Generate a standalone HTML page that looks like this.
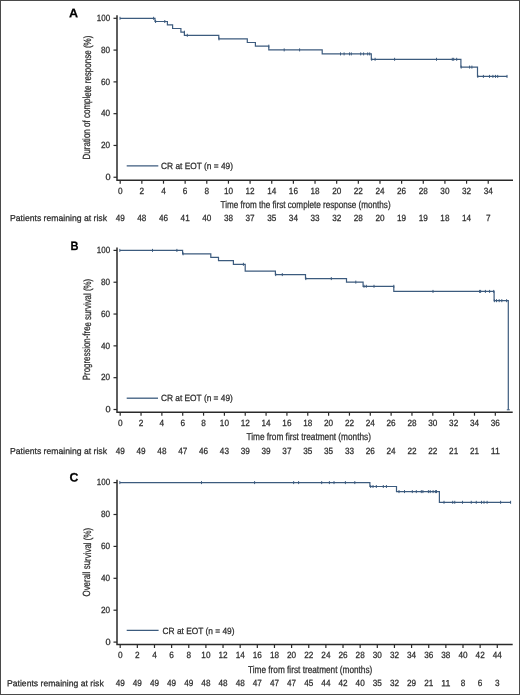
<!DOCTYPE html>
<html><head><meta charset="utf-8"><style>
html,body{margin:0;padding:0;background:#fff;}
svg{display:block;will-change:transform;}
text{font-family:"Liberation Sans", sans-serif;stroke:#2b2b2b;stroke-width:0.25px;paint-order:stroke;}
</style></head><body>
<svg width="520" height="695" viewBox="0 0 520 695">
<rect x="0" y="0" width="520" height="695" fill="#fff"/>
<rect x="0.5" y="0.5" width="519" height="694" fill="none" stroke="#4a4a4a" stroke-width="1"/>
<text x="68.9" y="17.35" font-size="12.2" textLength="9.1" lengthAdjust="spacingAndGlyphs" font-weight="bold" fill="#000" transform="rotate(0.03 68.9 17.35)">A</text>
<path d="M117 15.2V180.3H513" fill="none" stroke="#2a2a2a" stroke-width="1.5"/>
<path d="M113.5 177.25H117" stroke="#2a2a2a" stroke-width="1.2"/>
<text x="110.7" y="180.05" font-size="9" text-anchor="end" textLength="5.1" lengthAdjust="spacingAndGlyphs" fill="#2b2b2b" transform="rotate(0.03 110.7 180.05)">0</text>
<path d="M113.5 145.46H117" stroke="#2a2a2a" stroke-width="1.2"/>
<text x="110.1" y="148.26" font-size="9" text-anchor="end" textLength="9.1" lengthAdjust="spacingAndGlyphs" fill="#2b2b2b" transform="rotate(0.03 110.1 148.26)">20</text>
<path d="M113.5 113.67H117" stroke="#2a2a2a" stroke-width="1.2"/>
<text x="110.1" y="116.47" font-size="9" text-anchor="end" textLength="9.1" lengthAdjust="spacingAndGlyphs" fill="#2b2b2b" transform="rotate(0.03 110.1 116.47)">40</text>
<path d="M113.5 81.88H117" stroke="#2a2a2a" stroke-width="1.2"/>
<text x="110.1" y="84.68" font-size="9" text-anchor="end" textLength="9.1" lengthAdjust="spacingAndGlyphs" fill="#2b2b2b" transform="rotate(0.03 110.1 84.68)">60</text>
<path d="M113.5 50.09H117" stroke="#2a2a2a" stroke-width="1.2"/>
<text x="110.1" y="52.89" font-size="9" text-anchor="end" textLength="9.1" lengthAdjust="spacingAndGlyphs" fill="#2b2b2b" transform="rotate(0.03 110.1 52.89)">80</text>
<path d="M113.5 18.30H117" stroke="#2a2a2a" stroke-width="1.2"/>
<text x="110.1" y="21.10" font-size="9" text-anchor="end" textLength="13.3" lengthAdjust="spacingAndGlyphs" fill="#2b2b2b" transform="rotate(0.03 110.1 21.10)">100</text>
<text transform="translate(90.5 97.55) rotate(-89.97)" x="0" y="0" font-size="10.4" text-anchor="middle" textLength="123.9" lengthAdjust="spacingAndGlyphs" fill="#2b2b2b">Duration of complete response (%)</text>
<path d="M120.20 180.3V183.70000000000002" stroke="#2a2a2a" stroke-width="1.2"/>
<text x="120.20" y="193.9" font-size="9" text-anchor="middle" textLength="4.6" lengthAdjust="spacingAndGlyphs" fill="#2b2b2b" transform="rotate(0.03 120.20 193.9)">0</text>
<text x="120.20" y="220.9" font-size="9" text-anchor="middle" textLength="9.1" lengthAdjust="spacingAndGlyphs" fill="#2b2b2b" transform="rotate(0.03 120.20 220.9)">49</text>
<path d="M141.85 180.3V183.70000000000002" stroke="#2a2a2a" stroke-width="1.2"/>
<text x="141.85" y="193.9" font-size="9" text-anchor="middle" textLength="4.6" lengthAdjust="spacingAndGlyphs" fill="#2b2b2b" transform="rotate(0.03 141.85 193.9)">2</text>
<text x="141.85" y="220.9" font-size="9" text-anchor="middle" textLength="9.1" lengthAdjust="spacingAndGlyphs" fill="#2b2b2b" transform="rotate(0.03 141.85 220.9)">48</text>
<path d="M163.50 180.3V183.70000000000002" stroke="#2a2a2a" stroke-width="1.2"/>
<text x="163.50" y="193.9" font-size="9" text-anchor="middle" textLength="4.6" lengthAdjust="spacingAndGlyphs" fill="#2b2b2b" transform="rotate(0.03 163.50 193.9)">4</text>
<text x="163.50" y="220.9" font-size="9" text-anchor="middle" textLength="9.1" lengthAdjust="spacingAndGlyphs" fill="#2b2b2b" transform="rotate(0.03 163.50 220.9)">46</text>
<path d="M185.14 180.3V183.70000000000002" stroke="#2a2a2a" stroke-width="1.2"/>
<text x="185.14" y="193.9" font-size="9" text-anchor="middle" textLength="4.6" lengthAdjust="spacingAndGlyphs" fill="#2b2b2b" transform="rotate(0.03 185.14 193.9)">6</text>
<text x="185.14" y="220.9" font-size="9" text-anchor="middle" textLength="9.1" lengthAdjust="spacingAndGlyphs" fill="#2b2b2b" transform="rotate(0.03 185.14 220.9)">41</text>
<path d="M206.79 180.3V183.70000000000002" stroke="#2a2a2a" stroke-width="1.2"/>
<text x="206.79" y="193.9" font-size="9" text-anchor="middle" textLength="4.6" lengthAdjust="spacingAndGlyphs" fill="#2b2b2b" transform="rotate(0.03 206.79 193.9)">8</text>
<text x="206.79" y="220.9" font-size="9" text-anchor="middle" textLength="9.1" lengthAdjust="spacingAndGlyphs" fill="#2b2b2b" transform="rotate(0.03 206.79 220.9)">40</text>
<path d="M228.44 180.3V183.70000000000002" stroke="#2a2a2a" stroke-width="1.2"/>
<text x="228.44" y="193.9" font-size="9" text-anchor="middle" textLength="9.1" lengthAdjust="spacingAndGlyphs" fill="#2b2b2b" transform="rotate(0.03 228.44 193.9)">10</text>
<text x="228.44" y="220.9" font-size="9" text-anchor="middle" textLength="9.1" lengthAdjust="spacingAndGlyphs" fill="#2b2b2b" transform="rotate(0.03 228.44 220.9)">38</text>
<path d="M250.09 180.3V183.70000000000002" stroke="#2a2a2a" stroke-width="1.2"/>
<text x="250.09" y="193.9" font-size="9" text-anchor="middle" textLength="9.1" lengthAdjust="spacingAndGlyphs" fill="#2b2b2b" transform="rotate(0.03 250.09 193.9)">12</text>
<text x="250.09" y="220.9" font-size="9" text-anchor="middle" textLength="9.1" lengthAdjust="spacingAndGlyphs" fill="#2b2b2b" transform="rotate(0.03 250.09 220.9)">37</text>
<path d="M271.74 180.3V183.70000000000002" stroke="#2a2a2a" stroke-width="1.2"/>
<text x="271.74" y="193.9" font-size="9" text-anchor="middle" textLength="9.1" lengthAdjust="spacingAndGlyphs" fill="#2b2b2b" transform="rotate(0.03 271.74 193.9)">14</text>
<text x="271.74" y="220.9" font-size="9" text-anchor="middle" textLength="9.1" lengthAdjust="spacingAndGlyphs" fill="#2b2b2b" transform="rotate(0.03 271.74 220.9)">35</text>
<path d="M293.38 180.3V183.70000000000002" stroke="#2a2a2a" stroke-width="1.2"/>
<text x="293.38" y="193.9" font-size="9" text-anchor="middle" textLength="9.1" lengthAdjust="spacingAndGlyphs" fill="#2b2b2b" transform="rotate(0.03 293.38 193.9)">16</text>
<text x="293.38" y="220.9" font-size="9" text-anchor="middle" textLength="9.1" lengthAdjust="spacingAndGlyphs" fill="#2b2b2b" transform="rotate(0.03 293.38 220.9)">34</text>
<path d="M315.03 180.3V183.70000000000002" stroke="#2a2a2a" stroke-width="1.2"/>
<text x="315.03" y="193.9" font-size="9" text-anchor="middle" textLength="9.1" lengthAdjust="spacingAndGlyphs" fill="#2b2b2b" transform="rotate(0.03 315.03 193.9)">18</text>
<text x="315.03" y="220.9" font-size="9" text-anchor="middle" textLength="9.1" lengthAdjust="spacingAndGlyphs" fill="#2b2b2b" transform="rotate(0.03 315.03 220.9)">33</text>
<path d="M336.68 180.3V183.70000000000002" stroke="#2a2a2a" stroke-width="1.2"/>
<text x="336.68" y="193.9" font-size="9" text-anchor="middle" textLength="9.1" lengthAdjust="spacingAndGlyphs" fill="#2b2b2b" transform="rotate(0.03 336.68 193.9)">20</text>
<text x="336.68" y="220.9" font-size="9" text-anchor="middle" textLength="9.1" lengthAdjust="spacingAndGlyphs" fill="#2b2b2b" transform="rotate(0.03 336.68 220.9)">32</text>
<path d="M358.33 180.3V183.70000000000002" stroke="#2a2a2a" stroke-width="1.2"/>
<text x="358.33" y="193.9" font-size="9" text-anchor="middle" textLength="9.1" lengthAdjust="spacingAndGlyphs" fill="#2b2b2b" transform="rotate(0.03 358.33 193.9)">22</text>
<text x="358.33" y="220.9" font-size="9" text-anchor="middle" textLength="9.1" lengthAdjust="spacingAndGlyphs" fill="#2b2b2b" transform="rotate(0.03 358.33 220.9)">28</text>
<path d="M379.98 180.3V183.70000000000002" stroke="#2a2a2a" stroke-width="1.2"/>
<text x="379.98" y="193.9" font-size="9" text-anchor="middle" textLength="9.1" lengthAdjust="spacingAndGlyphs" fill="#2b2b2b" transform="rotate(0.03 379.98 193.9)">24</text>
<text x="379.98" y="220.9" font-size="9" text-anchor="middle" textLength="9.1" lengthAdjust="spacingAndGlyphs" fill="#2b2b2b" transform="rotate(0.03 379.98 220.9)">20</text>
<path d="M401.62 180.3V183.70000000000002" stroke="#2a2a2a" stroke-width="1.2"/>
<text x="401.62" y="193.9" font-size="9" text-anchor="middle" textLength="9.1" lengthAdjust="spacingAndGlyphs" fill="#2b2b2b" transform="rotate(0.03 401.62 193.9)">26</text>
<text x="401.62" y="220.9" font-size="9" text-anchor="middle" textLength="9.1" lengthAdjust="spacingAndGlyphs" fill="#2b2b2b" transform="rotate(0.03 401.62 220.9)">19</text>
<path d="M423.27 180.3V183.70000000000002" stroke="#2a2a2a" stroke-width="1.2"/>
<text x="423.27" y="193.9" font-size="9" text-anchor="middle" textLength="9.1" lengthAdjust="spacingAndGlyphs" fill="#2b2b2b" transform="rotate(0.03 423.27 193.9)">28</text>
<text x="423.27" y="220.9" font-size="9" text-anchor="middle" textLength="9.1" lengthAdjust="spacingAndGlyphs" fill="#2b2b2b" transform="rotate(0.03 423.27 220.9)">19</text>
<path d="M444.92 180.3V183.70000000000002" stroke="#2a2a2a" stroke-width="1.2"/>
<text x="444.92" y="193.9" font-size="9" text-anchor="middle" textLength="9.1" lengthAdjust="spacingAndGlyphs" fill="#2b2b2b" transform="rotate(0.03 444.92 193.9)">30</text>
<text x="444.92" y="220.9" font-size="9" text-anchor="middle" textLength="9.1" lengthAdjust="spacingAndGlyphs" fill="#2b2b2b" transform="rotate(0.03 444.92 220.9)">18</text>
<path d="M466.57 180.3V183.70000000000002" stroke="#2a2a2a" stroke-width="1.2"/>
<text x="466.57" y="193.9" font-size="9" text-anchor="middle" textLength="9.1" lengthAdjust="spacingAndGlyphs" fill="#2b2b2b" transform="rotate(0.03 466.57 193.9)">32</text>
<text x="466.57" y="220.9" font-size="9" text-anchor="middle" textLength="9.1" lengthAdjust="spacingAndGlyphs" fill="#2b2b2b" transform="rotate(0.03 466.57 220.9)">14</text>
<path d="M488.22 180.3V183.70000000000002" stroke="#2a2a2a" stroke-width="1.2"/>
<text x="488.22" y="193.9" font-size="9" text-anchor="middle" textLength="9.1" lengthAdjust="spacingAndGlyphs" fill="#2b2b2b" transform="rotate(0.03 488.22 193.9)">34</text>
<text x="488.22" y="220.9" font-size="9" text-anchor="middle" textLength="4.6" lengthAdjust="spacingAndGlyphs" fill="#2b2b2b" transform="rotate(0.03 488.22 220.9)">7</text>
<text x="220.5" y="207.9" font-size="10" textLength="170.1" lengthAdjust="spacingAndGlyphs" fill="#2b2b2b" transform="rotate(0.03 220.5 207.9)">Time from the first complete response (months)</text>
<text x="10" y="220.9" font-size="8.7" textLength="97" lengthAdjust="spacingAndGlyphs" fill="#2b2b2b" transform="rotate(0.03 10 220.9)">Patients remaining at risk</text>
<path d="M126.7 165.9H158.3" stroke="#3c5b7e" stroke-width="1.3"/>
<text x="161.0" y="168.9" font-size="9" textLength="72" lengthAdjust="spacingAndGlyphs" fill="#2b2b2b" transform="rotate(0.03 161.0 168.9)">CR at EOT (n = 49)</text>
<path d="M120 18.3H155V21.5H167.4V24.9H172.6V28.5H180.9V32.2H184.4V35.3H218.8V38.9H247.3V42.5H255.4V46.15H268.8V49.9H322.2V53.9H371.3V59.3H460.9V67.1H477.5V76.4H507.2" fill="none" stroke="#3c5b7e" stroke-width="1.2"/>
<path d="M120 16.80V19.80M153.6 16.80V19.80M155.6 20.00V23.00M164.8 20.00V23.00M184.4 30.70V33.70M187.3 33.80V36.80M219 37.40V40.40M268.8 44.65V47.65M284.2 48.40V51.40M299.6 48.40V51.40M340.5 52.40V55.40M344.1 52.40V55.40M349.5 52.40V55.40M351.3 52.40V55.40M360.7 52.40V55.40M363.6 52.40V55.40M367.7 52.40V55.40M369.7 52.40V55.40M371.7 57.80V60.80M375.1 57.80V60.80M394.6 57.80V60.80M436.5 57.80V60.80M452.3 57.80V60.80M453.7 57.80V60.80M456.7 57.80V60.80M461.2 65.60V68.60M469.6 65.60V68.60M471.9 65.60V68.60M477.8 74.90V77.90M483.4 74.90V77.90M489.5 74.90V77.90M492.9 74.90V77.90M495.5 74.90V77.90M497.7 74.90V77.90M507 74.90V77.90" stroke="#3c5b7e" stroke-width="1.0"/>
<text x="70.4" y="249.55" font-size="12.2" textLength="8.0" lengthAdjust="spacingAndGlyphs" font-weight="bold" fill="#000" transform="rotate(0.03 70.4 249.55)">B</text>
<path d="M117 247.5V412.3H512.7" fill="none" stroke="#2a2a2a" stroke-width="1.5"/>
<path d="M113.5 409.50H117" stroke="#2a2a2a" stroke-width="1.2"/>
<text x="110.7" y="412.30" font-size="9" text-anchor="end" textLength="5.1" lengthAdjust="spacingAndGlyphs" fill="#2b2b2b" transform="rotate(0.03 110.7 412.30)">0</text>
<path d="M113.5 377.68H117" stroke="#2a2a2a" stroke-width="1.2"/>
<text x="110.1" y="380.48" font-size="9" text-anchor="end" textLength="9.1" lengthAdjust="spacingAndGlyphs" fill="#2b2b2b" transform="rotate(0.03 110.1 380.48)">20</text>
<path d="M113.5 345.86H117" stroke="#2a2a2a" stroke-width="1.2"/>
<text x="110.1" y="348.66" font-size="9" text-anchor="end" textLength="9.1" lengthAdjust="spacingAndGlyphs" fill="#2b2b2b" transform="rotate(0.03 110.1 348.66)">40</text>
<path d="M113.5 314.04H117" stroke="#2a2a2a" stroke-width="1.2"/>
<text x="110.1" y="316.84" font-size="9" text-anchor="end" textLength="9.1" lengthAdjust="spacingAndGlyphs" fill="#2b2b2b" transform="rotate(0.03 110.1 316.84)">60</text>
<path d="M113.5 282.22H117" stroke="#2a2a2a" stroke-width="1.2"/>
<text x="110.1" y="285.02" font-size="9" text-anchor="end" textLength="9.1" lengthAdjust="spacingAndGlyphs" fill="#2b2b2b" transform="rotate(0.03 110.1 285.02)">80</text>
<path d="M113.5 250.40H117" stroke="#2a2a2a" stroke-width="1.2"/>
<text x="110.1" y="253.20" font-size="9" text-anchor="end" textLength="13.3" lengthAdjust="spacingAndGlyphs" fill="#2b2b2b" transform="rotate(0.03 110.1 253.20)">100</text>
<text transform="translate(90.5 329.55) rotate(-89.97)" x="0" y="0" font-size="10.4" text-anchor="middle" textLength="101.3" lengthAdjust="spacingAndGlyphs" fill="#2b2b2b">Progression-free survival (%)</text>
<path d="M120.20 412.3V415.7" stroke="#2a2a2a" stroke-width="1.2"/>
<text x="120.20" y="426.4" font-size="9" text-anchor="middle" textLength="4.6" lengthAdjust="spacingAndGlyphs" fill="#2b2b2b" transform="rotate(0.03 120.20 426.4)">0</text>
<text x="120.20" y="453.9" font-size="9" text-anchor="middle" textLength="9.1" lengthAdjust="spacingAndGlyphs" fill="#2b2b2b" transform="rotate(0.03 120.20 453.9)">49</text>
<path d="M141.04 412.3V415.7" stroke="#2a2a2a" stroke-width="1.2"/>
<text x="141.04" y="426.4" font-size="9" text-anchor="middle" textLength="4.6" lengthAdjust="spacingAndGlyphs" fill="#2b2b2b" transform="rotate(0.03 141.04 426.4)">2</text>
<text x="141.04" y="453.9" font-size="9" text-anchor="middle" textLength="9.1" lengthAdjust="spacingAndGlyphs" fill="#2b2b2b" transform="rotate(0.03 141.04 453.9)">49</text>
<path d="M161.88 412.3V415.7" stroke="#2a2a2a" stroke-width="1.2"/>
<text x="161.88" y="426.4" font-size="9" text-anchor="middle" textLength="4.6" lengthAdjust="spacingAndGlyphs" fill="#2b2b2b" transform="rotate(0.03 161.88 426.4)">4</text>
<text x="161.88" y="453.9" font-size="9" text-anchor="middle" textLength="9.1" lengthAdjust="spacingAndGlyphs" fill="#2b2b2b" transform="rotate(0.03 161.88 453.9)">48</text>
<path d="M182.72 412.3V415.7" stroke="#2a2a2a" stroke-width="1.2"/>
<text x="182.72" y="426.4" font-size="9" text-anchor="middle" textLength="4.6" lengthAdjust="spacingAndGlyphs" fill="#2b2b2b" transform="rotate(0.03 182.72 426.4)">6</text>
<text x="182.72" y="453.9" font-size="9" text-anchor="middle" textLength="9.1" lengthAdjust="spacingAndGlyphs" fill="#2b2b2b" transform="rotate(0.03 182.72 453.9)">47</text>
<path d="M203.56 412.3V415.7" stroke="#2a2a2a" stroke-width="1.2"/>
<text x="203.56" y="426.4" font-size="9" text-anchor="middle" textLength="4.6" lengthAdjust="spacingAndGlyphs" fill="#2b2b2b" transform="rotate(0.03 203.56 426.4)">8</text>
<text x="203.56" y="453.9" font-size="9" text-anchor="middle" textLength="9.1" lengthAdjust="spacingAndGlyphs" fill="#2b2b2b" transform="rotate(0.03 203.56 453.9)">46</text>
<path d="M224.40 412.3V415.7" stroke="#2a2a2a" stroke-width="1.2"/>
<text x="224.40" y="426.4" font-size="9" text-anchor="middle" textLength="9.1" lengthAdjust="spacingAndGlyphs" fill="#2b2b2b" transform="rotate(0.03 224.40 426.4)">10</text>
<text x="224.40" y="453.9" font-size="9" text-anchor="middle" textLength="9.1" lengthAdjust="spacingAndGlyphs" fill="#2b2b2b" transform="rotate(0.03 224.40 453.9)">43</text>
<path d="M245.24 412.3V415.7" stroke="#2a2a2a" stroke-width="1.2"/>
<text x="245.24" y="426.4" font-size="9" text-anchor="middle" textLength="9.1" lengthAdjust="spacingAndGlyphs" fill="#2b2b2b" transform="rotate(0.03 245.24 426.4)">12</text>
<text x="245.24" y="453.9" font-size="9" text-anchor="middle" textLength="9.1" lengthAdjust="spacingAndGlyphs" fill="#2b2b2b" transform="rotate(0.03 245.24 453.9)">39</text>
<path d="M266.08 412.3V415.7" stroke="#2a2a2a" stroke-width="1.2"/>
<text x="266.08" y="426.4" font-size="9" text-anchor="middle" textLength="9.1" lengthAdjust="spacingAndGlyphs" fill="#2b2b2b" transform="rotate(0.03 266.08 426.4)">14</text>
<text x="266.08" y="453.9" font-size="9" text-anchor="middle" textLength="9.1" lengthAdjust="spacingAndGlyphs" fill="#2b2b2b" transform="rotate(0.03 266.08 453.9)">39</text>
<path d="M286.92 412.3V415.7" stroke="#2a2a2a" stroke-width="1.2"/>
<text x="286.92" y="426.4" font-size="9" text-anchor="middle" textLength="9.1" lengthAdjust="spacingAndGlyphs" fill="#2b2b2b" transform="rotate(0.03 286.92 426.4)">16</text>
<text x="286.92" y="453.9" font-size="9" text-anchor="middle" textLength="9.1" lengthAdjust="spacingAndGlyphs" fill="#2b2b2b" transform="rotate(0.03 286.92 453.9)">37</text>
<path d="M307.76 412.3V415.7" stroke="#2a2a2a" stroke-width="1.2"/>
<text x="307.76" y="426.4" font-size="9" text-anchor="middle" textLength="9.1" lengthAdjust="spacingAndGlyphs" fill="#2b2b2b" transform="rotate(0.03 307.76 426.4)">18</text>
<text x="307.76" y="453.9" font-size="9" text-anchor="middle" textLength="9.1" lengthAdjust="spacingAndGlyphs" fill="#2b2b2b" transform="rotate(0.03 307.76 453.9)">35</text>
<path d="M328.60 412.3V415.7" stroke="#2a2a2a" stroke-width="1.2"/>
<text x="328.60" y="426.4" font-size="9" text-anchor="middle" textLength="9.1" lengthAdjust="spacingAndGlyphs" fill="#2b2b2b" transform="rotate(0.03 328.60 426.4)">20</text>
<text x="328.60" y="453.9" font-size="9" text-anchor="middle" textLength="9.1" lengthAdjust="spacingAndGlyphs" fill="#2b2b2b" transform="rotate(0.03 328.60 453.9)">35</text>
<path d="M349.44 412.3V415.7" stroke="#2a2a2a" stroke-width="1.2"/>
<text x="349.44" y="426.4" font-size="9" text-anchor="middle" textLength="9.1" lengthAdjust="spacingAndGlyphs" fill="#2b2b2b" transform="rotate(0.03 349.44 426.4)">22</text>
<text x="349.44" y="453.9" font-size="9" text-anchor="middle" textLength="9.1" lengthAdjust="spacingAndGlyphs" fill="#2b2b2b" transform="rotate(0.03 349.44 453.9)">33</text>
<path d="M370.28 412.3V415.7" stroke="#2a2a2a" stroke-width="1.2"/>
<text x="370.28" y="426.4" font-size="9" text-anchor="middle" textLength="9.1" lengthAdjust="spacingAndGlyphs" fill="#2b2b2b" transform="rotate(0.03 370.28 426.4)">24</text>
<text x="370.28" y="453.9" font-size="9" text-anchor="middle" textLength="9.1" lengthAdjust="spacingAndGlyphs" fill="#2b2b2b" transform="rotate(0.03 370.28 453.9)">26</text>
<path d="M391.12 412.3V415.7" stroke="#2a2a2a" stroke-width="1.2"/>
<text x="391.12" y="426.4" font-size="9" text-anchor="middle" textLength="9.1" lengthAdjust="spacingAndGlyphs" fill="#2b2b2b" transform="rotate(0.03 391.12 426.4)">26</text>
<text x="391.12" y="453.9" font-size="9" text-anchor="middle" textLength="9.1" lengthAdjust="spacingAndGlyphs" fill="#2b2b2b" transform="rotate(0.03 391.12 453.9)">24</text>
<path d="M411.96 412.3V415.7" stroke="#2a2a2a" stroke-width="1.2"/>
<text x="411.96" y="426.4" font-size="9" text-anchor="middle" textLength="9.1" lengthAdjust="spacingAndGlyphs" fill="#2b2b2b" transform="rotate(0.03 411.96 426.4)">28</text>
<text x="411.96" y="453.9" font-size="9" text-anchor="middle" textLength="9.1" lengthAdjust="spacingAndGlyphs" fill="#2b2b2b" transform="rotate(0.03 411.96 453.9)">22</text>
<path d="M432.80 412.3V415.7" stroke="#2a2a2a" stroke-width="1.2"/>
<text x="432.80" y="426.4" font-size="9" text-anchor="middle" textLength="9.1" lengthAdjust="spacingAndGlyphs" fill="#2b2b2b" transform="rotate(0.03 432.80 426.4)">30</text>
<text x="432.80" y="453.9" font-size="9" text-anchor="middle" textLength="9.1" lengthAdjust="spacingAndGlyphs" fill="#2b2b2b" transform="rotate(0.03 432.80 453.9)">22</text>
<path d="M453.64 412.3V415.7" stroke="#2a2a2a" stroke-width="1.2"/>
<text x="453.64" y="426.4" font-size="9" text-anchor="middle" textLength="9.1" lengthAdjust="spacingAndGlyphs" fill="#2b2b2b" transform="rotate(0.03 453.64 426.4)">32</text>
<text x="453.64" y="453.9" font-size="9" text-anchor="middle" textLength="9.1" lengthAdjust="spacingAndGlyphs" fill="#2b2b2b" transform="rotate(0.03 453.64 453.9)">21</text>
<path d="M474.48 412.3V415.7" stroke="#2a2a2a" stroke-width="1.2"/>
<text x="474.48" y="426.4" font-size="9" text-anchor="middle" textLength="9.1" lengthAdjust="spacingAndGlyphs" fill="#2b2b2b" transform="rotate(0.03 474.48 426.4)">34</text>
<text x="474.48" y="453.9" font-size="9" text-anchor="middle" textLength="9.1" lengthAdjust="spacingAndGlyphs" fill="#2b2b2b" transform="rotate(0.03 474.48 453.9)">21</text>
<path d="M495.32 412.3V415.7" stroke="#2a2a2a" stroke-width="1.2"/>
<text x="495.32" y="426.4" font-size="9" text-anchor="middle" textLength="9.1" lengthAdjust="spacingAndGlyphs" fill="#2b2b2b" transform="rotate(0.03 495.32 426.4)">36</text>
<text x="495.32" y="453.9" font-size="9" text-anchor="middle" textLength="9.1" lengthAdjust="spacingAndGlyphs" fill="#2b2b2b" transform="rotate(0.03 495.32 453.9)">11</text>
<text x="246.45" y="440.2" font-size="10" textLength="124.5" lengthAdjust="spacingAndGlyphs" fill="#2b2b2b" transform="rotate(0.03 246.45 440.2)">Time from first treatment (months)</text>
<text x="10" y="453.9" font-size="8.7" textLength="97" lengthAdjust="spacingAndGlyphs" fill="#2b2b2b" transform="rotate(0.03 10 453.9)">Patients remaining at risk</text>
<path d="M126.7 398.2H158.0" stroke="#3c5b7e" stroke-width="1.3"/>
<text x="160.9" y="400.6" font-size="9" textLength="72" lengthAdjust="spacingAndGlyphs" fill="#2b2b2b" transform="rotate(0.03 160.9 400.6)">CR at EOT (n = 49)</text>
<path d="M120 250.4H182.6V253.8H210.8V257.3H218.5V260.6H233.4V264.3H245.2V271.1H275.4V274.6H305.5V278.6H346.5V282.1H363.1V286.3H393.8V291.4H494.1V300.7H508.3V409.8" fill="none" stroke="#3c5b7e" stroke-width="1.2"/>
<path d="M119.8 248.90V251.90M152.5 248.90V251.90M176.9 248.90V251.90M183.1 252.30V255.30M243.4 262.80V265.80M275.7 273.10V276.10M282.3 273.10V276.10M305.8 277.10V280.10M331.3 277.10V280.10M355.8 280.60V283.60M364 284.80V287.80M366.3 284.80V287.80M374 284.80V287.80M393.8 284.80V287.80M433 289.90V292.90M479.6 289.90V292.90M480.6 289.90V292.90M485.4 289.90V292.90M489.6 289.90V292.90M493.7 289.90V292.90M494.4 299.20V302.20M496.5 299.20V302.20M499.2 299.20V302.20M501.8 299.20V302.20M506.6 299.20V302.20M506.8 409.8H509.8" stroke="#3c5b7e" stroke-width="1.0"/>
<text x="69.5" y="481.4" font-size="12.2" textLength="8.9" lengthAdjust="spacingAndGlyphs" font-weight="bold" fill="#000" transform="rotate(0.03 69.5 481.4)">C</text>
<path d="M117 479.8V644.6H512.7" fill="none" stroke="#2a2a2a" stroke-width="1.5"/>
<path d="M113.5 642.10H117" stroke="#2a2a2a" stroke-width="1.2"/>
<text x="110.7" y="644.90" font-size="9" text-anchor="end" textLength="5.1" lengthAdjust="spacingAndGlyphs" fill="#2b2b2b" transform="rotate(0.03 110.7 644.90)">0</text>
<path d="M113.5 610.20H117" stroke="#2a2a2a" stroke-width="1.2"/>
<text x="110.1" y="613.00" font-size="9" text-anchor="end" textLength="9.1" lengthAdjust="spacingAndGlyphs" fill="#2b2b2b" transform="rotate(0.03 110.1 613.00)">20</text>
<path d="M113.5 578.30H117" stroke="#2a2a2a" stroke-width="1.2"/>
<text x="110.1" y="581.10" font-size="9" text-anchor="end" textLength="9.1" lengthAdjust="spacingAndGlyphs" fill="#2b2b2b" transform="rotate(0.03 110.1 581.10)">40</text>
<path d="M113.5 546.40H117" stroke="#2a2a2a" stroke-width="1.2"/>
<text x="110.1" y="549.20" font-size="9" text-anchor="end" textLength="9.1" lengthAdjust="spacingAndGlyphs" fill="#2b2b2b" transform="rotate(0.03 110.1 549.20)">60</text>
<path d="M113.5 514.50H117" stroke="#2a2a2a" stroke-width="1.2"/>
<text x="110.1" y="517.30" font-size="9" text-anchor="end" textLength="9.1" lengthAdjust="spacingAndGlyphs" fill="#2b2b2b" transform="rotate(0.03 110.1 517.30)">80</text>
<path d="M113.5 482.60H117" stroke="#2a2a2a" stroke-width="1.2"/>
<text x="110.1" y="485.40" font-size="9" text-anchor="end" textLength="13.3" lengthAdjust="spacingAndGlyphs" fill="#2b2b2b" transform="rotate(0.03 110.1 485.40)">100</text>
<text transform="translate(90.5 562.2) rotate(-89.97)" x="0" y="0" font-size="10.4" text-anchor="middle" textLength="68.6" lengthAdjust="spacingAndGlyphs" fill="#2b2b2b">Overall survival (%)</text>
<path d="M120.20 644.6V648.0" stroke="#2a2a2a" stroke-width="1.2"/>
<text x="120.20" y="658.2" font-size="9" text-anchor="middle" textLength="4.6" lengthAdjust="spacingAndGlyphs" fill="#2b2b2b" transform="rotate(0.03 120.20 658.2)">0</text>
<text x="120.20" y="686.3" font-size="9" text-anchor="middle" textLength="9.1" lengthAdjust="spacingAndGlyphs" fill="#2b2b2b" transform="rotate(0.03 120.20 686.3)">49</text>
<path d="M137.34 644.6V648.0" stroke="#2a2a2a" stroke-width="1.2"/>
<text x="137.34" y="658.2" font-size="9" text-anchor="middle" textLength="4.6" lengthAdjust="spacingAndGlyphs" fill="#2b2b2b" transform="rotate(0.03 137.34 658.2)">2</text>
<text x="137.34" y="686.3" font-size="9" text-anchor="middle" textLength="9.1" lengthAdjust="spacingAndGlyphs" fill="#2b2b2b" transform="rotate(0.03 137.34 686.3)">49</text>
<path d="M154.48 644.6V648.0" stroke="#2a2a2a" stroke-width="1.2"/>
<text x="154.48" y="658.2" font-size="9" text-anchor="middle" textLength="4.6" lengthAdjust="spacingAndGlyphs" fill="#2b2b2b" transform="rotate(0.03 154.48 658.2)">4</text>
<text x="154.48" y="686.3" font-size="9" text-anchor="middle" textLength="9.1" lengthAdjust="spacingAndGlyphs" fill="#2b2b2b" transform="rotate(0.03 154.48 686.3)">49</text>
<path d="M171.62 644.6V648.0" stroke="#2a2a2a" stroke-width="1.2"/>
<text x="171.62" y="658.2" font-size="9" text-anchor="middle" textLength="4.6" lengthAdjust="spacingAndGlyphs" fill="#2b2b2b" transform="rotate(0.03 171.62 658.2)">6</text>
<text x="171.62" y="686.3" font-size="9" text-anchor="middle" textLength="9.1" lengthAdjust="spacingAndGlyphs" fill="#2b2b2b" transform="rotate(0.03 171.62 686.3)">49</text>
<path d="M188.76 644.6V648.0" stroke="#2a2a2a" stroke-width="1.2"/>
<text x="188.76" y="658.2" font-size="9" text-anchor="middle" textLength="4.6" lengthAdjust="spacingAndGlyphs" fill="#2b2b2b" transform="rotate(0.03 188.76 658.2)">8</text>
<text x="188.76" y="686.3" font-size="9" text-anchor="middle" textLength="9.1" lengthAdjust="spacingAndGlyphs" fill="#2b2b2b" transform="rotate(0.03 188.76 686.3)">49</text>
<path d="M205.90 644.6V648.0" stroke="#2a2a2a" stroke-width="1.2"/>
<text x="205.90" y="658.2" font-size="9" text-anchor="middle" textLength="9.1" lengthAdjust="spacingAndGlyphs" fill="#2b2b2b" transform="rotate(0.03 205.90 658.2)">10</text>
<text x="205.90" y="686.3" font-size="9" text-anchor="middle" textLength="9.1" lengthAdjust="spacingAndGlyphs" fill="#2b2b2b" transform="rotate(0.03 205.90 686.3)">48</text>
<path d="M223.04 644.6V648.0" stroke="#2a2a2a" stroke-width="1.2"/>
<text x="223.04" y="658.2" font-size="9" text-anchor="middle" textLength="9.1" lengthAdjust="spacingAndGlyphs" fill="#2b2b2b" transform="rotate(0.03 223.04 658.2)">12</text>
<text x="223.04" y="686.3" font-size="9" text-anchor="middle" textLength="9.1" lengthAdjust="spacingAndGlyphs" fill="#2b2b2b" transform="rotate(0.03 223.04 686.3)">48</text>
<path d="M240.18 644.6V648.0" stroke="#2a2a2a" stroke-width="1.2"/>
<text x="240.18" y="658.2" font-size="9" text-anchor="middle" textLength="9.1" lengthAdjust="spacingAndGlyphs" fill="#2b2b2b" transform="rotate(0.03 240.18 658.2)">14</text>
<text x="240.18" y="686.3" font-size="9" text-anchor="middle" textLength="9.1" lengthAdjust="spacingAndGlyphs" fill="#2b2b2b" transform="rotate(0.03 240.18 686.3)">48</text>
<path d="M257.32 644.6V648.0" stroke="#2a2a2a" stroke-width="1.2"/>
<text x="257.32" y="658.2" font-size="9" text-anchor="middle" textLength="9.1" lengthAdjust="spacingAndGlyphs" fill="#2b2b2b" transform="rotate(0.03 257.32 658.2)">16</text>
<text x="257.32" y="686.3" font-size="9" text-anchor="middle" textLength="9.1" lengthAdjust="spacingAndGlyphs" fill="#2b2b2b" transform="rotate(0.03 257.32 686.3)">47</text>
<path d="M274.46 644.6V648.0" stroke="#2a2a2a" stroke-width="1.2"/>
<text x="274.46" y="658.2" font-size="9" text-anchor="middle" textLength="9.1" lengthAdjust="spacingAndGlyphs" fill="#2b2b2b" transform="rotate(0.03 274.46 658.2)">18</text>
<text x="274.46" y="686.3" font-size="9" text-anchor="middle" textLength="9.1" lengthAdjust="spacingAndGlyphs" fill="#2b2b2b" transform="rotate(0.03 274.46 686.3)">47</text>
<path d="M291.60 644.6V648.0" stroke="#2a2a2a" stroke-width="1.2"/>
<text x="291.60" y="658.2" font-size="9" text-anchor="middle" textLength="9.1" lengthAdjust="spacingAndGlyphs" fill="#2b2b2b" transform="rotate(0.03 291.60 658.2)">20</text>
<text x="291.60" y="686.3" font-size="9" text-anchor="middle" textLength="9.1" lengthAdjust="spacingAndGlyphs" fill="#2b2b2b" transform="rotate(0.03 291.60 686.3)">47</text>
<path d="M308.74 644.6V648.0" stroke="#2a2a2a" stroke-width="1.2"/>
<text x="308.74" y="658.2" font-size="9" text-anchor="middle" textLength="9.1" lengthAdjust="spacingAndGlyphs" fill="#2b2b2b" transform="rotate(0.03 308.74 658.2)">22</text>
<text x="308.74" y="686.3" font-size="9" text-anchor="middle" textLength="9.1" lengthAdjust="spacingAndGlyphs" fill="#2b2b2b" transform="rotate(0.03 308.74 686.3)">45</text>
<path d="M325.88 644.6V648.0" stroke="#2a2a2a" stroke-width="1.2"/>
<text x="325.88" y="658.2" font-size="9" text-anchor="middle" textLength="9.1" lengthAdjust="spacingAndGlyphs" fill="#2b2b2b" transform="rotate(0.03 325.88 658.2)">24</text>
<text x="325.88" y="686.3" font-size="9" text-anchor="middle" textLength="9.1" lengthAdjust="spacingAndGlyphs" fill="#2b2b2b" transform="rotate(0.03 325.88 686.3)">44</text>
<path d="M343.02 644.6V648.0" stroke="#2a2a2a" stroke-width="1.2"/>
<text x="343.02" y="658.2" font-size="9" text-anchor="middle" textLength="9.1" lengthAdjust="spacingAndGlyphs" fill="#2b2b2b" transform="rotate(0.03 343.02 658.2)">26</text>
<text x="343.02" y="686.3" font-size="9" text-anchor="middle" textLength="9.1" lengthAdjust="spacingAndGlyphs" fill="#2b2b2b" transform="rotate(0.03 343.02 686.3)">42</text>
<path d="M360.16 644.6V648.0" stroke="#2a2a2a" stroke-width="1.2"/>
<text x="360.16" y="658.2" font-size="9" text-anchor="middle" textLength="9.1" lengthAdjust="spacingAndGlyphs" fill="#2b2b2b" transform="rotate(0.03 360.16 658.2)">28</text>
<text x="360.16" y="686.3" font-size="9" text-anchor="middle" textLength="9.1" lengthAdjust="spacingAndGlyphs" fill="#2b2b2b" transform="rotate(0.03 360.16 686.3)">40</text>
<path d="M377.30 644.6V648.0" stroke="#2a2a2a" stroke-width="1.2"/>
<text x="377.30" y="658.2" font-size="9" text-anchor="middle" textLength="9.1" lengthAdjust="spacingAndGlyphs" fill="#2b2b2b" transform="rotate(0.03 377.30 658.2)">30</text>
<text x="377.30" y="686.3" font-size="9" text-anchor="middle" textLength="9.1" lengthAdjust="spacingAndGlyphs" fill="#2b2b2b" transform="rotate(0.03 377.30 686.3)">35</text>
<path d="M394.44 644.6V648.0" stroke="#2a2a2a" stroke-width="1.2"/>
<text x="394.44" y="658.2" font-size="9" text-anchor="middle" textLength="9.1" lengthAdjust="spacingAndGlyphs" fill="#2b2b2b" transform="rotate(0.03 394.44 658.2)">32</text>
<text x="394.44" y="686.3" font-size="9" text-anchor="middle" textLength="9.1" lengthAdjust="spacingAndGlyphs" fill="#2b2b2b" transform="rotate(0.03 394.44 686.3)">32</text>
<path d="M411.58 644.6V648.0" stroke="#2a2a2a" stroke-width="1.2"/>
<text x="411.58" y="658.2" font-size="9" text-anchor="middle" textLength="9.1" lengthAdjust="spacingAndGlyphs" fill="#2b2b2b" transform="rotate(0.03 411.58 658.2)">34</text>
<text x="411.58" y="686.3" font-size="9" text-anchor="middle" textLength="9.1" lengthAdjust="spacingAndGlyphs" fill="#2b2b2b" transform="rotate(0.03 411.58 686.3)">29</text>
<path d="M428.72 644.6V648.0" stroke="#2a2a2a" stroke-width="1.2"/>
<text x="428.72" y="658.2" font-size="9" text-anchor="middle" textLength="9.1" lengthAdjust="spacingAndGlyphs" fill="#2b2b2b" transform="rotate(0.03 428.72 658.2)">36</text>
<text x="428.72" y="686.3" font-size="9" text-anchor="middle" textLength="9.1" lengthAdjust="spacingAndGlyphs" fill="#2b2b2b" transform="rotate(0.03 428.72 686.3)">21</text>
<path d="M445.86 644.6V648.0" stroke="#2a2a2a" stroke-width="1.2"/>
<text x="445.86" y="658.2" font-size="9" text-anchor="middle" textLength="9.1" lengthAdjust="spacingAndGlyphs" fill="#2b2b2b" transform="rotate(0.03 445.86 658.2)">38</text>
<text x="445.86" y="686.3" font-size="9" text-anchor="middle" textLength="9.1" lengthAdjust="spacingAndGlyphs" fill="#2b2b2b" transform="rotate(0.03 445.86 686.3)">11</text>
<path d="M463.00 644.6V648.0" stroke="#2a2a2a" stroke-width="1.2"/>
<text x="463.00" y="658.2" font-size="9" text-anchor="middle" textLength="9.1" lengthAdjust="spacingAndGlyphs" fill="#2b2b2b" transform="rotate(0.03 463.00 658.2)">40</text>
<text x="463.00" y="686.3" font-size="9" text-anchor="middle" textLength="4.6" lengthAdjust="spacingAndGlyphs" fill="#2b2b2b" transform="rotate(0.03 463.00 686.3)">8</text>
<path d="M480.14 644.6V648.0" stroke="#2a2a2a" stroke-width="1.2"/>
<text x="480.14" y="658.2" font-size="9" text-anchor="middle" textLength="9.1" lengthAdjust="spacingAndGlyphs" fill="#2b2b2b" transform="rotate(0.03 480.14 658.2)">42</text>
<text x="480.14" y="686.3" font-size="9" text-anchor="middle" textLength="4.6" lengthAdjust="spacingAndGlyphs" fill="#2b2b2b" transform="rotate(0.03 480.14 686.3)">6</text>
<path d="M497.28 644.6V648.0" stroke="#2a2a2a" stroke-width="1.2"/>
<text x="497.28" y="658.2" font-size="9" text-anchor="middle" textLength="9.1" lengthAdjust="spacingAndGlyphs" fill="#2b2b2b" transform="rotate(0.03 497.28 658.2)">44</text>
<text x="497.28" y="686.3" font-size="9" text-anchor="middle" textLength="4.6" lengthAdjust="spacingAndGlyphs" fill="#2b2b2b" transform="rotate(0.03 497.28 686.3)">3</text>
<text x="247.95" y="672.5" font-size="10" textLength="124.4" lengthAdjust="spacingAndGlyphs" fill="#2b2b2b" transform="rotate(0.03 247.95 672.5)">Time from first treatment (months)</text>
<text x="7" y="686.3" font-size="8.7" textLength="96.75" lengthAdjust="spacingAndGlyphs" fill="#2b2b2b" transform="rotate(0.03 7 686.3)">Patients remaining at risk</text>
<path d="M126.7 630.4H158.6" stroke="#3c5b7e" stroke-width="1.3"/>
<text x="162.5" y="633.6" font-size="9" textLength="72" lengthAdjust="spacingAndGlyphs" fill="#2b2b2b" transform="rotate(0.03 162.5 633.6)">CR at EOT (n = 49)</text>
<path d="M120 482.6H369.9V486.5H396.5V491.6H439.4V502.3H511" fill="none" stroke="#3c5b7e" stroke-width="1.2"/>
<path d="M119.8 481.10V484.10M201.5 481.10V484.10M254.6 481.10V484.10M293.65 481.10V484.10M298.6 481.10V484.10M321.7 481.10V484.10M329.4 481.10V484.10M334 481.10V484.10M345.4 481.10V484.10M354.8 481.10V484.10M370.7 485.00V488.00M373 485.00V488.00M376.3 485.00V488.00M383.3 485.00V488.00M386.4 485.00V488.00M399 490.10V493.10M404.5 490.10V493.10M412.3 490.10V493.10M416.3 490.10V493.10M421.3 490.10V493.10M422.9 490.10V493.10M428.4 490.10V493.10M430.2 490.10V493.10M433.1 490.10V493.10M435.4 490.10V493.10M436.5 490.10V493.10M444 500.80V503.80M452.7 500.80V503.80M454.75 500.80V503.80M462.5 500.80V503.80M471.25 500.80V503.80M476.25 500.80V503.80M481.5 500.80V503.80M484 500.80V503.80M487.1 500.80V503.80M500.6 500.80V503.80M510.6 500.80V503.80" stroke="#3c5b7e" stroke-width="1.0"/>
</svg>
</body></html>
